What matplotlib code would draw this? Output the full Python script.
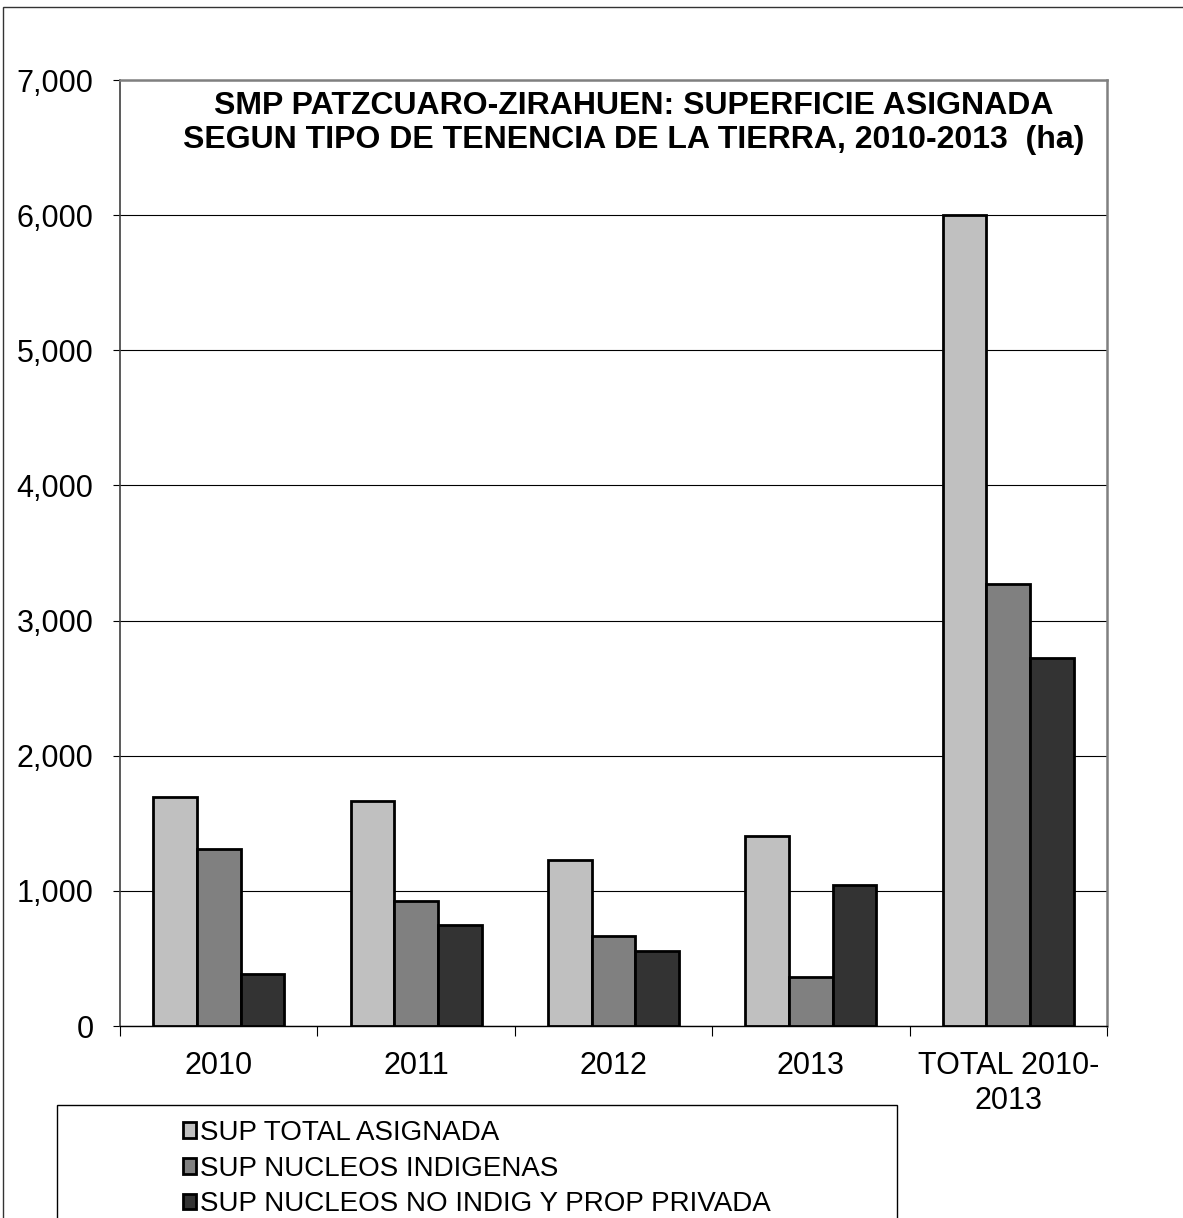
import numpy as np
import matplotlib.pyplot as plt
from matplotlib.patches import Rectangle
from matplotlib.ticker import FuncFormatter, FixedLocator

plt.rcParams['font.family'] = ['Liberation Sans', 'DejaVu Sans']

categories = ['2010', '2011', '2012', '2013', 'TOTAL 2010-\n2013']
series_names = ['SUP TOTAL ASIGNADA', 'SUP NUCLEOS INDIGENAS',
                'SUP NUCLEOS NO INDIG Y PROP PRIVADA']
sup_total = [1695, 1668, 1225, 1408, 6000]
sup_indigenas = [1313, 924, 668, 361, 3270]
sup_no_indig = [384, 744, 557, 1043, 2726]
colors = ['#C0C0C0', '#808080', '#333333']

W, H = 1183, 1218
fig = plt.figure(figsize=(W / 100, H / 100), dpi=100)
ax = fig.add_axes([120 / W, 1 - 1026 / H, (1107 - 120) / W, (1026 - 80) / H])

x = np.arange(len(categories))
bw = 0.221
series = [sup_total, sup_indigenas, sup_no_indig]
for i, (vals, name, c) in enumerate(zip(series, series_names, colors)):
    ax.bar(x + (i - 1) * bw, vals, bw, color=c, edgecolor='black',
           linewidth=2.0, label=name, zorder=3)

ax.set_xlim(-0.5, 4.5)
ax.set_ylim(0, 7000)
ax.set_yticks(np.arange(0, 7001, 1000))
ax.yaxis.set_major_formatter(FuncFormatter(lambda v, p: f'{int(v):,}'))
ax.yaxis.grid(True, color='black', linewidth=0.8, zorder=0)
ax.tick_params(axis='y', labelsize=22, length=5, width=0.8, pad=14, direction='out')

ax.set_xticks(x)
ax.set_xticklabels(categories, fontsize=22, linespacing=1.2)
ax.tick_params(axis='x', length=0, pad=18)
ax.xaxis.set_minor_locator(FixedLocator(np.arange(-0.5, 5, 1)))
ax.tick_params(axis='x', which='minor', length=7, width=0.8, direction='out')

for s in ['top', 'right']:
    ax.spines[s].set_color('#808080')
    ax.spines[s].set_linewidth(1.8)
ax.spines['left'].set_color('#404040')
ax.spines['left'].set_linewidth(1.2)
ax.spines['bottom'].set_color('black')
ax.spines['bottom'].set_linewidth(1.0)

fig.text(634 / W, 1 - 123 / H,
         'SMP PATZCUARO-ZIRAHUEN: SUPERFICIE ASIGNADA\n'
         'SEGUN TIPO DE TENENCIA DE LA TIERRA, 2010-2013  (ha)',
         ha='center', va='center', fontsize=23, fontweight='bold',
         linespacing=1.2)

# outer chart frame and legend frame
fig.patches.append(Rectangle((3 / W, -0.05), 1.1, 1 - 7 / H + 0.05,
                             transform=fig.transFigure, fill=False,
                             edgecolor='#333333', linewidth=1.0))
fig.patches.append(Rectangle((57 / W, -0.05), (897 - 57) / W, 1 - 1105 / H + 0.05,
                             transform=fig.transFigure, fill=False,
                             edgecolor='black', linewidth=1.0))

handles, labels = ax.get_legend_handles_labels()
fig.legend(handles, labels, loc='upper center',
           bbox_to_anchor=(477 / W, 1 - 1106 / H), frameon=False,
           fontsize=20, handlelength=0.45, handleheight=0.5,
           handletextpad=0.15, labelspacing=0.35, borderpad=0)

fig.savefig('out.png', dpi=100)
